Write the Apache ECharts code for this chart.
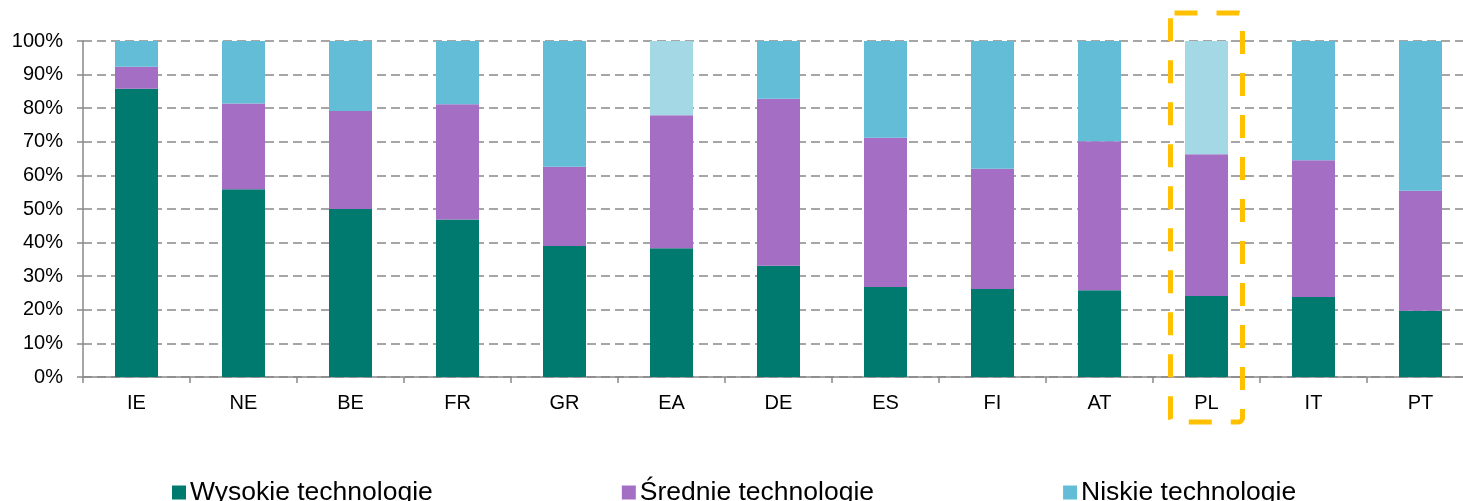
<!DOCTYPE html>
<html>
<head>
<meta charset="utf-8">
<script src="https://cdn.jsdelivr.net/npm/echarts@6/dist/echarts.min.js"></script>
<style>
    html, body { margin: 0; padding: 0; background: #fff; }
    #chart { width: 1463px; height: 501px; }
</style>
</head>
<body>
<div id="chart"></div>
<script>
const countries = ['IE', 'NE', 'BE', 'FR', 'GR', 'EA', 'DE', 'ES', 'FI', 'AT', 'PL', 'IT', 'PT']
const highTech = [85.8, 55.9, 50.0, 46.9, 39.0, 38.3, 33.1, 26.8, 26.2, 25.8, 24.1, 23.8, 19.7]
const midTech = [6.5, 25.5, 29.2, 34.3, 23.6, 39.6, 49.7, 44.4, 35.8, 44.4, 42.2, 40.7, 35.7]
const lowTech = [7.7, 18.6, 20.8, 18.8, 37.4, 22.1, 17.2, 28.8, 38.0, 29.8, 33.7, 35.5, 44.6]
const seriesNames = ['Wysokie technologie', 'Średnie technologie', 'Niskie technologie']
const highlighted = ['EA', 'PL']

const colors = {
    high: '#007a6e',
    mid: '#a36ec4',
    low: '#63bdd6',
    lowLight: '#a5d8e5',
    frame: '#ffc000',
}

const chart = echarts.init(document.getElementById('chart'))
const font = 'Liberation Sans, Arial, sans-serif'

chart.setOption({
    animation: false,
    textStyle: { fontFamily: font },
    grid: {
        left: 83,
        top: 41,
        width: 1391,
        height: 336,
        outerBoundsMode: 'none',
        containLabel: false,
    },
    legend: {
        left: 172,
        top: 479,
        padding: 0,
        itemWidth: 14,
        itemHeight: 14,
        itemGap: 189,
        icon: 'rect',
        textStyle: { fontSize: 26.5, color: '#000', fontFamily: font, padding: [0, 0, 0, -1] },
        data: seriesNames,
    },
    xAxis: {
        type: 'category',
        data: countries,
        axisLine: { lineStyle: { color: '#898989', width: 1.5 } },
        axisTick: { show: true, length: 6, lineStyle: { color: '#898989', width: 1.5 } },
        axisLabel: { color: '#000', fontSize: 20, margin: 16 },
    },
    yAxis: {
        type: 'value',
        min: 0,
        max: 100,
        interval: 10,
        axisLine: { show: true, lineStyle: { color: '#898989', width: 1.5 } },
        axisTick: { show: true, length: 6, lineStyle: { color: '#898989', width: 1.5 } },
        axisLabel: { color: '#000', fontSize: 20, margin: 20, formatter: '{value}%' },
        splitLine: {
            lineStyle: { color: '#898989', width: 1.5, type: [9, 5] },
        },
    },
    series: [
        {
            name: seriesNames[0],
            type: 'bar',
            stack: 'total',
            barWidth: 43,
            itemStyle: { color: colors.high },
            data: highTech,
        },
        {
            name: seriesNames[1],
            type: 'bar',
            stack: 'total',
            itemStyle: { color: colors.mid },
            data: midTech,
        },
        {
            name: seriesNames[2],
            type: 'bar',
            stack: 'total',
            itemStyle: { color: colors.low },
            data: lowTech.map((v, i) => highlighted.includes(countries[i])
                ? { value: v, itemStyle: { color: colors.lowLight } }
                : v),
        },
    ],
})

// dashed frame round PL
const cx = chart.convertToPixel({ xAxisIndex: 0 }, 'PL')
chart.setOption({
    graphic: [
        {
            type: 'rect',
            z: 100,
            shape: { x: cx - 36, y: 13, width: 72, height: 409, r: 4 },
            style: {
                fill: null,
                stroke: colors.frame,
                lineWidth: 5,
                lineDash: [23, 19],
            },
        },
    ],
})
</script>
</body>
</html>
